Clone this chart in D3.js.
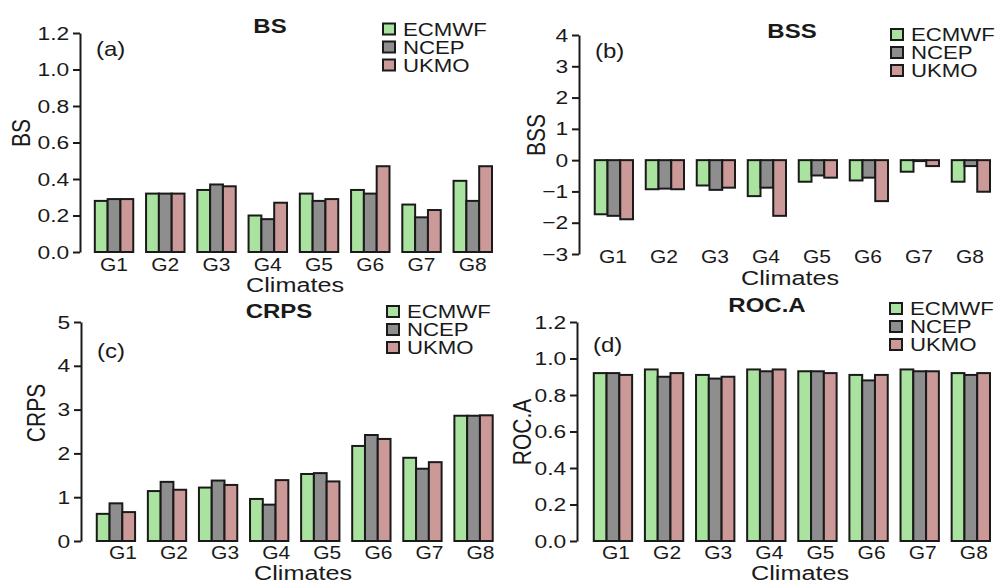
<!DOCTYPE html>
<html>
<head>
<meta charset="utf-8">
<script src="https://cdn.jsdelivr.net/npm/d3@7"></script>
<style>
  body { margin: 0; background: #fff; }
  text { font-family: "Liberation Sans", Arial, sans-serif; fill: #1a1a1a; }
</style>
</head>
<body>
<div id="chart"></div>
<script>
// Climate groups and forecast models
const groups = ["G1", "G2", "G3", "G4", "G5", "G6", "G7", "G8"];
const models = ["ECMWF", "NCEP", "UKMO"];
const modelColors = ["#aae2a0", "#8e8e8e", "#cc9999"];

// (a) BS
const bsEcmwf = [0.28, 0.32, 0.34, 0.20, 0.32, 0.34, 0.26, 0.39];
const bsNcep  = [0.29, 0.32, 0.37, 0.18, 0.28, 0.32, 0.19, 0.28];
const bsUkmo  = [0.29, 0.32, 0.36, 0.27, 0.29, 0.47, 0.23, 0.47];

// (b) BSS
const bssEcmwf = [-1.73, -0.93, -0.81, -1.15, -0.69, -0.65, -0.37, -0.69];
const bssNcep  = [-1.78, -0.91, -0.95, -0.88, -0.49, -0.56, -0.03, -0.19];
const bssUkmo  = [-1.89, -0.93, -0.88, -1.78, -0.56, -1.31, -0.19, -1.01];

// (c) CRPS
const crpsEcmwf = [0.62, 1.14, 1.22, 0.96, 1.53, 2.17, 1.90, 2.86];
const crpsNcep  = [0.86, 1.35, 1.38, 0.83, 1.55, 2.42, 1.65, 2.86];
const crpsUkmo  = [0.66, 1.17, 1.28, 1.39, 1.36, 2.33, 1.80, 2.87];

// (d) ROC.A
const rocEcmwf = [0.92, 0.94, 0.91, 0.94, 0.93, 0.91, 0.94, 0.92];
const rocNcep  = [0.92, 0.90, 0.89, 0.93, 0.93, 0.88, 0.93, 0.91];
const rocUkmo  = [0.91, 0.92, 0.90, 0.94, 0.92, 0.91, 0.93, 0.92];

// Tick values
const ticksA = [0, 0.2, 0.4, 0.6, 0.8, 1.0, 1.2];
const ticksB = [-3, -2, -1, 0, 1, 2, 3, 4];
const ticksC = [0, 1, 2, 3, 4, 5];
const ticksD = [0, 0.2, 0.4, 0.6, 0.8, 1.0, 1.2];

// the original picture is a bit stretched sideways
const SX = 1.2;

const svg = d3.select("#chart").append("svg")
    .attr("width", 997)
    .attr("height", 585);

function label(x, y, str, size, opts = {}) {
    return svg.append("text")
        .attr("transform", `translate(${x},${y}) scale(${SX},1)` + (opts.rotate ? " rotate(-90)" : ""))
        .attr("font-size", size)
        .attr("font-weight", opts.bold ? "bold" : null)
        .attr("text-anchor", opts.anchor || "start")
        .attr("dy", opts.dy || null)
        .text(str);
}

const panels = [
    { title: "BS", tag: "(a)", ylab: "BS", series: [bsEcmwf, bsNcep, bsUkmo],
      domain: [0, 1.2], ticks: ticksA, fmt: d3.format(".1f"),
      axisX: 80, xr: [82, 492], yr: [252, 33],
      titleX: 270, titleY: 33, tagY: 56, ylabX: 21, ylabY: 133,
      legX: 383, legY: 29, gOff: 0, gY: 271, climX: 295, climY: 292 },
    { title: "BSS", tag: "(b)", ylab: "BSS", series: [bssEcmwf, bssNcep, bssUkmo],
      domain: [-3, 4], ticks: ticksB, fmt: d3.format("d"),
      axisX: 579, xr: [582, 990], yr: [254, 35],
      titleX: 792, titleY: 38, tagY: 58, ylabX: 536, ylabY: 135,
      legX: 891, legY: 34.5, gOff: -1, gY: 263, climX: 790, climY: 285 },
    { title: "CRPS", tag: "(c)", ylab: "CRPS", series: [crpsEcmwf, crpsNcep, crpsUkmo],
      domain: [0, 5], ticks: ticksC, fmt: d3.format("d"),
      axisX: 81, xr: [84, 492.7], yr: [541, 322],
      titleX: 279, titleY: 318, tagY: 358, ylabX: 36, ylabY: 413,
      legX: 387, legY: 311.5, gOff: 7, gY: 559, climX: 303, climY: 580 },
    { title: "ROC.A", tag: "(d)", ylab: "ROC.A", series: [rocEcmwf, rocNcep, rocUkmo],
      domain: [0, 1.2], ticks: ticksD, fmt: d3.format(".1f"),
      axisX: 577, xr: [581, 990], yr: [541, 322],
      titleX: 767, titleY: 312, tagY: 352, ylabX: 522, ylabY: 432,
      legX: 890, legY: 308.5, gOff: 3, gY: 559, climX: 800, climY: 580 }
];

panels.forEach(function (p) {
    // R barplot style units: 3 bars per group + 1 gap
    const x = d3.scaleLinear().domain([0, groups.length * 4]).range(p.xr);
    const y = d3.scaleLinear().domain(p.domain).range(p.yr);

    // bars
    const g = svg.append("g");
    groups.forEach(function (grp, i) {
        p.series.forEach(function (vals, j) {
            const u = 1 + 4 * i + j;
            const v = vals[i];
            g.append("rect")
                .attr("x", x(u))
                .attr("width", x(u + 1) - x(u))
                .attr("y", Math.min(y(v), y(0)))
                .attr("height", Math.abs(y(v) - y(0)))
                .attr("fill", modelColors[j])
                .attr("stroke", "#1a1a1a")
                .attr("stroke-width", 2);
        });
        // group label
        label(x(1 + 4 * i + 1.5) + p.gOff, p.gY, grp, 17.5, { anchor: "middle" });
    });

    // y axis
    const ax = svg.append("g")
        .attr("transform", `translate(${p.axisX},0)`)
        .call(d3.axisLeft(y).tickValues(p.ticks).tickFormat(p.fmt)
            .tickSize(7).tickSizeOuter(0).tickPadding(2));
    ax.select(".domain").attr("stroke", "#1a1a1a").attr("stroke-width", 2);
    ax.selectAll(".tick line").attr("stroke", "#1a1a1a").attr("stroke-width", 2);
    ax.selectAll(".tick text")
        .attr("font-size", 19)
        .attr("font-family", "Liberation Sans, Arial, sans-serif")
        .attr("fill", "#1a1a1a")
        .attr("transform", `scale(${SX},1)`);

    // titles and labels
    label(p.titleX, p.titleY, p.title, 20, { anchor: "middle", bold: true });
    label(p.axisX + 16, p.tagY, p.tag, 20);
    label(p.ylabX, p.ylabY, p.ylab, 21, { anchor: "middle", rotate: true, dy: "0.36em" });
    label(p.climX, p.climY, "Climates", 21, { anchor: "middle" });

    // legend
    models.forEach(function (m, j) {
        const cy = p.legY + j * 18;
        svg.append("rect")
            .attr("x", p.legX)
            .attr("y", cy - 5.5)
            .attr("width", 12)
            .attr("height", 11)
            .attr("fill", modelColors[j])
            .attr("stroke", "#1a1a1a")
            .attr("stroke-width", 2);
        label(p.legX + 20, cy + 6.5, m, 18.5);
    });
});
</script>
</body>
</html>
